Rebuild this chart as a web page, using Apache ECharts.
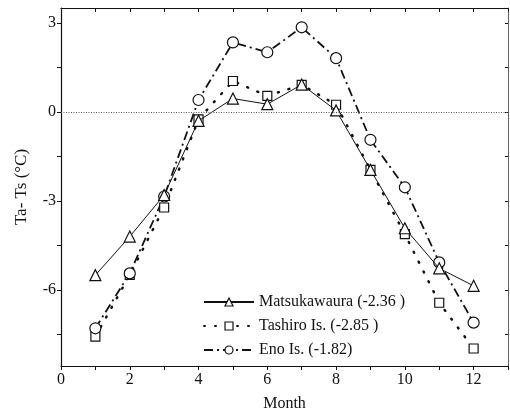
<!DOCTYPE html>
<html>
<head>
<meta charset="utf-8">
<script src="https://cdn.jsdelivr.net/npm/echarts@6/dist/echarts.min.js"></script>
<style>
html, body { margin: 0; padding: 0; background: #fff; }
#chart { width: 510px; height: 413px; }
</style>
</head>
<body>
<div id="chart"></div>
<script>
// monthly Ta - Ts (°C)
const months = [1, 2, 3, 4, 5, 6, 7, 8, 9, 10, 11, 12];
const matsukawaura = [-5.5, -4.2, -2.8, -0.3, 0.45, 0.26, 0.92, 0.05, -1.95, -3.92, -5.27, -5.86];
const tashiro = [-7.57, -5.49, -3.22, -0.25, 1.04, 0.54, 0.91, 0.24, -1.95, -4.12, -6.43, -7.97];
const eno = [-7.29, -5.44, -2.85, 0.4, 2.34, 2.01, 2.85, 1.81, -0.94, -2.54, -5.07, -7.1];
const seriesNames = ['Matsukawaura (-2.36 )', 'Tashiro Is. (-2.85 )', 'Eno Is. (-1.82)'];
const xLabels = [0, 2, 4, 6, 8, 10, 12];
const xTicks = [0, 1, 2, 3, 4, 5, 6, 7, 8, 9, 10, 11, 12, 13];
const yLabels = [3, 0, -3, -6];
const yTicks = [3, 1.5, 0, -1.5, -3, -4.5, -6, -7.5];

const chart = echarts.init(document.getElementById('chart'));
const font = "'Liberation Serif', 'DejaVu Serif', serif";
const hollow = { color: '#fff', borderColor: '#111', borderWidth: 1.2 };

function pairs(vals) {
    return months.map((m, i) => [m, vals[i]]);
}

const option = {
    animation: false,
    grid: { left: 61, right: 2, top: 8, bottom: 47, outerBoundsMode: 'none' },
    legend: {
        orient: 'vertical',
        left: 198,
        top: 289,
        itemWidth: 50,
        itemHeight: 10,
        itemGap: 8,
        textStyle: { fontFamily: font, fontSize: 16, color: '#111' },
        data: seriesNames.map(n => ({ name: n, itemStyle: hollow }))
    },
    xAxis: [{
        type: 'value',
        min: 0,
        max: 13,
        name: 'Month',
        nameLocation: 'middle',
        nameGap: 30,
        nameTextStyle: { fontFamily: font, fontSize: 16, color: '#111' },
        axisLine: { show: true, onZero: false, lineStyle: { color: '#111', width: 1.2 } },
        axisTick: { show: true, length: 4, customValues: xTicks, lineStyle: { color: '#111' } },
        axisLabel: { customValues: xLabels, fontFamily: font, fontSize: 16, color: '#111', margin: 6 },
        splitLine: { show: false }
    }, {
        type: 'value',
        position: 'top',
        min: 0,
        max: 13,
        axisLine: { show: true, onZero: false, lineStyle: { color: '#111', width: 1.2 } },
        axisTick: { show: true, inside: true, length: 4, customValues: xTicks, lineStyle: { color: '#111' } },
        axisLabel: { show: false },
        splitLine: { show: false }
    }],
    yAxis: [{
        type: 'value',
        min: -8.56,
        max: 3.5,
        name: 'Ta- Ts (°C)',
        nameLocation: 'middle',
        nameGap: 31,
        nameTextStyle: { fontFamily: font, fontSize: 17, color: '#111' },
        axisLine: { show: true, onZero: false, lineStyle: { color: '#111', width: 1.2 } },
        axisTick: { show: true, length: 4, customValues: yTicks, lineStyle: { color: '#111' } },
        axisLabel: { customValues: yLabels, fontFamily: font, fontSize: 16, color: '#111', margin: 5 },
        splitLine: { show: false }
    }, {
        type: 'value',
        position: 'right',
        min: -8.56,
        max: 3.5,
        axisLine: { show: true, onZero: false, lineStyle: { color: '#666', width: 1 } },
        axisTick: { show: true, inside: true, length: 3, customValues: yTicks, lineStyle: { color: '#111' } },
        axisLabel: { show: false },
        splitLine: { show: false }
    }],
    series: [{
        name: seriesNames[0],
        type: 'line',
        data: pairs(matsukawaura),
        symbol: 'triangle',
        symbolSize: 11,
        z: 3,
        lineStyle: { color: '#111', width: 1 },
        itemStyle: hollow,
        markLine: {
            silent: true,
            symbol: 'none',
            label: { show: false },
            lineStyle: { color: '#555', type: [1, 1.5], width: 1 },
            data: [{ yAxis: 0 }]
        }
    }, {
        name: seriesNames[1],
        type: 'line',
        data: pairs(tashiro),
        symbol: 'rect',
        symbolSize: 9,
        z: 2,
        lineStyle: { color: '#111', width: 2.5, type: [1, 10], cap: 'round' },
        itemStyle: hollow
    }, {
        name: seriesNames[2],
        type: 'line',
        data: pairs(eno),
        symbol: 'circle',
        symbolSize: 11,
        z: 2,
        lineStyle: { color: '#111', width: 1.8, type: [9, 4, 2, 4] },
        itemStyle: hollow
    }]
};

chart.setOption(option);
</script>
</body>
</html>
